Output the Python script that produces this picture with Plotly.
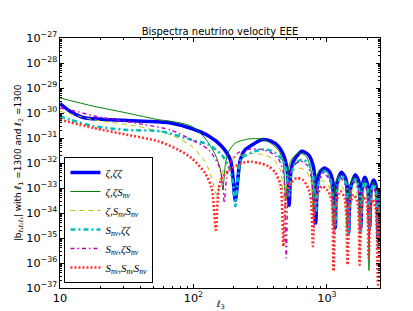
import plotly.graph_objects as go

# ---------------- data (|b| vs ell_3) ----------------
ell_zzz = [10, 11.9, 13.7, 15.5, 23.8, 42, 67.5, 96.7, 130, 162, 190, 206, 224, 244, 290, 325, 378, 435, 482, 507,
           522, 538, 572, 649, 729, 788, 815, 826, 851, 889, 961, 1048, 1113, 1156, 1191, 1283, 1380, 1429, 1456,
           1507, 1633, 1738, 1800, 1845, 1918, 2018, 2090, 2152, 2240, 2345, 2415, 2473, 2500]
b_zzz = [2.4e-30, 1.17e-30, 7.9e-31, 6.3e-31, 5.4e-31, 4.7e-31, 4.0e-31, 2.4e-31, 1.2e-31, 4.8e-32, 1.26e-32,
         3.2e-34, 1.26e-32, 3.4e-32, 6.3e-32, 8.5e-32, 7.6e-32, 4.5e-32, 1.58e-32, 4.0e-33,
         2.0e-34, 5.0e-33, 1.41e-32, 2.95e-32, 2.1e-32, 7.9e-33, 2.0e-33, 4.0e-35, 1.58e-33, 4.5e-33, 6.3e-33,
         4.5e-33, 1.58e-33, 2.5e-35, 1.58e-33, 4.3e-33, 2.5e-33, 7.9e-34, 1.58e-35,
         1.0e-33, 3.4e-33, 1.78e-33, 2.5e-35, 1.26e-33, 2.7e-33, 1.41e-33, 2.5e-35, 1.12e-33, 2.1e-33, 1.12e-33,
         1.0e-35, 5.0e-34, 8.5e-34]

ell_zzS = [10, 17.9, 31.8, 54.6, 67.5, 96.7, 122, 146, 160, 166, 174, 183, 206, 259, 325, 378, 435, 469, 492, 516,
           553, 614, 693, 755, 793, 823, 912, 1012, 1075, 1113, 1151, 1245, 1358, 1413, 1466, 1585, 1698, 1759,
           1820, 1901, 2003, 2067, 2128, 2223, 2333, 2395, 2466, 2500]
b_zzS = [4.0e-30, 1.86e-30, 1.0e-30, 5.4e-31, 4.7e-31, 2.95e-31, 1.0e-31, 2.1e-32, 5.0e-33, 8.5e-34, 1.0e-32,
         2.8e-32, 6.3e-32, 9.1e-32, 9.1e-32, 6.3e-32, 3.2e-32, 1.12e-32, 3.2e-34, 6.3e-33,
         1.58e-32, 2.5e-32, 2.0e-32, 6.3e-33, 1.58e-34, 2.5e-33, 5.6e-33, 4.0e-33, 1.26e-33, 3.2e-35, 1.26e-33,
         3.5e-33, 2.0e-33, 2.5e-35, 1.0e-33, 2.8e-33, 1.41e-33, 1.58e-35,
         1.0e-33, 2.24e-33, 1.12e-33, 5.0e-37, 7.9e-34, 1.78e-33, 8.9e-34, 1.0e-35, 5.0e-34, 7.9e-34]

ell_zSS = [10, 17.9, 37.8, 67.5, 96.7, 122, 137, 150, 162, 183, 217, 282, 353, 405, 450, 478, 507, 553, 614, 693,
           755, 794, 838, 912, 1012, 1075, 1122, 1172, 1268, 1370, 1429, 1493, 1585, 1698, 1766, 1837, 1906, 2003,
           2075, 2145, 2223, 2340, 2400, 2483, 2500]
b_zSS = [1.17e-30, 5.4e-31, 2.95e-31, 1.35e-31, 4.7e-32, 1.17e-32, 2.5e-33, 5.0e-34, 3.2e-33, 1.12e-32, 1.9e-32,
         2.4e-32, 2.0e-32, 1.26e-32, 5.0e-33, 3.2e-34, 2.5e-33, 5.0e-33, 6.3e-33, 5.0e-33,
         2.0e-33, 5.0e-35, 1.0e-33, 2.0e-33, 1.41e-33, 5.0e-34, 1.58e-35, 5.0e-34, 1.26e-33, 6.3e-34, 1.0e-35,
         4.0e-34, 1.0e-33, 5.0e-34, 1.0e-35, 4.0e-34, 7.9e-34, 4.0e-34,
         1.0e-35, 3.2e-34, 6.3e-34, 3.2e-34, 1.0e-35, 2.5e-34, 4.0e-34]

ell_Szz = [10, 11.9, 17.9, 31.8, 56.5, 96.7, 130, 163, 186, 198, 206, 215, 230, 290, 353, 412, 473, 502, 522, 543,
           582, 649, 729, 788, 826, 867, 961, 1057, 1156, 1203, 1288, 1393, 1456, 1517, 1633, 1738, 1800, 1853,
           1923, 2018, 2090, 2158, 2240, 2345, 2415, 2483, 2500]
b_Szz = [7.4e-31, 5.4e-31, 2.95e-31, 2.1e-31, 1.86e-31, 8.5e-32, 5.4e-32, 2.1e-32, 6.3e-33, 1.58e-33, 1.86e-34,
         2.5e-33, 1.58e-32, 2.95e-32, 3.5e-32, 2.5e-32, 1.12e-32, 3.2e-33, 5.0e-34, 4.0e-33,
         1.0e-32, 1.35e-32, 1.0e-32, 3.2e-33, 1.0e-34, 1.58e-33, 4.7e-33, 2.5e-33, 3.2e-35, 1.26e-33, 3.2e-33,
         1.58e-33, 1.58e-35, 1.0e-33, 2.24e-33, 1.0e-33, 1.58e-35, 7.9e-34,
         1.78e-33, 8.9e-34, 2.5e-35, 7.9e-34, 1.41e-33, 7.1e-34, 1.0e-35, 4.0e-34, 6.3e-34]

ell_SzS = [10, 13.7, 17.9, 42, 67.5, 96.7, 130, 154, 165, 170, 177, 188, 215, 259, 325, 385, 435, 473, 496, 520,
           562, 635, 716, 767, 802, 838, 929, 1030, 1094, 1132, 1183, 1268, 1370, 1429, 1493, 1600, 1714, 1774,
           1837, 1910, 2009, 2075, 2145, 2230, 2340, 2400, 2477, 2500]
b_SzS = [1.58e-30, 1.12e-30, 7.6e-31, 3.5e-31, 2.1e-31, 8.5e-32, 3.4e-32, 8.5e-33, 2.0e-33, 2.5e-34, 2.5e-33,
         1.0e-32, 2.5e-32, 3.5e-32, 3.5e-32, 2.5e-32, 1.41e-32, 4.0e-33, 1.58e-36, 2.5e-33,
         7.9e-33, 1.17e-32, 7.9e-33, 2.5e-33, 2.5e-35, 1.0e-33, 4.0e-33, 2.5e-33, 7.9e-34, 1.58e-35, 7.9e-34,
         2.5e-33, 1.26e-33, 3.2e-35, 7.9e-34, 1.78e-33, 7.9e-34, 1.58e-35,
         6.3e-34, 1.26e-33, 6.3e-34, 1.0e-35, 5.0e-34, 1.0e-33, 5.0e-34, 3.2e-36, 3.2e-34, 5.0e-34]

ell_SSS = [10, 17.9, 31.8, 54.6, 77, 96.7, 122, 137, 147, 154, 163, 194, 244, 272, 307, 366, 412, 450, 473, 499,
           535, 596, 668, 735, 764, 785, 823, 916, 1012, 1084, 1122, 1172, 1259, 1358, 1429, 1486, 1585, 1694,
           1759, 1820, 1884, 1986, 2055, 2128, 2203, 2317, 2415, 2483, 2500]
b_SSS = [5.4e-31, 2.5e-31, 1.35e-31, 7.4e-32, 3.4e-32, 1.58e-32, 4.0e-33, 1.0e-33, 2.1e-35, 7.9e-34, 2.5e-33,
         6.3e-33, 1.07e-32, 1.12e-32, 1.0e-32, 7.4e-33, 4.0e-33, 1.26e-33, 4.7e-36, 6.3e-34,
         1.58e-33, 2.5e-33, 2.0e-33, 7.9e-34, 2.5e-34, 4.7e-36, 3.2e-34, 1.17e-33, 7.9e-34, 3.2e-34, 4.7e-37,
         2.5e-34, 7.4e-34, 4.0e-34, 8.5e-37, 2.0e-34, 5.4e-34, 2.8e-34,
         8.5e-37, 1.58e-34, 4.7e-34, 2.5e-34, 1.58e-36, 1.58e-34, 3.4e-34, 1.58e-34, 1.35e-37, 1.0e-34, 1.58e-34]

names = ["<i>ζ,ζζ</i>",
         "<i>ζ,ζS<sub>nν</sub></i>",
         "<i>ζ,S<sub>nν</sub>S<sub>nν</sub></i>",
         "<i>S<sub>nν</sub>,ζζ</i>",
         "<i>S<sub>nν</sub>,ζS<sub>nν</sub></i>",
         "<i>S<sub>nν</sub>,S<sub>nν</sub>S<sub>nν</sub></i>"]

series = [(ell_zzz, b_zzz), (ell_zzS, b_zzS), (ell_zSS, b_zSS),
          (ell_Szz, b_Szz), (ell_SzS, b_SzS), (ell_SSS, b_SSS)]

styles = [dict(color="#0000ff", width=3.5, dash="solid"),
          dict(color="#008000", width=1, dash="solid"),
          dict(color="#bfbf00", width=1, dash="5px,4px"),
          dict(color="#00bfbf", width=2.6, dash="5px,3px,2px,3px"),
          dict(color="#bf00bf", width=1.4, dash="4px,3px,1.5px,3px"),
          dict(color="#ff3030", width=2.6, dash="2px,2px")]

fig = go.Figure()
for (x, y), nm, st in zip(series, names, styles):
    fig.add_trace(go.Scatter(x=x, y=y, mode="lines", name=nm,
                             line=dict(shape="spline", smoothing=0.7, **st)))

axis_common = dict(type="log", showline=True, linecolor="black", linewidth=1, mirror="ticks",
                   ticks="inside", ticklen=4, tickwidth=1, tickcolor="black", automargin=False,
                   showgrid=False, zeroline=False, exponentformat="power", dtick=1,
                   tickfont=dict(family="DejaVu Sans", size=9, color="black"),
                   minor=dict(ticks="inside", ticklen=2, tickcolor="black", dtick="D1", showgrid=False))

fig.update_layout(
    width=413, height=311,
    margin=dict(l=52, r=41, t=30, b=31, autoexpand=False),
    paper_bgcolor="white", plot_bgcolor="white",
    title=dict(text="Bispectra neutrino velocity EEE", x=0.5, xref="paper", xanchor="center",
               y=1, yref="paper", yanchor="bottom", pad=dict(b=3),
               font=dict(family="DejaVu Sans", size=10, color="black")),
    xaxis=dict(range=[1, 3.398], **axis_common),
    yaxis=dict(range=[-37, -27],
               title=dict(text="|b<sub>ℓ₁ℓ₂ℓ₃</sub>| with ℓ<sub>1</sub> =1300 and ℓ<sub>2</sub> =1300", standoff=3,
                          font=dict(family="DejaVu Sans", size=9, color="black")),
               **axis_common),
    legend=dict(x=0.014, y=0.02, xanchor="left", yanchor="bottom", bgcolor="white",
                bordercolor="black", borderwidth=1, itemwidth=30, tracegroupgap=0,
                font=dict(family="Liberation Serif", size=11, color="black")),
    showlegend=True,
    annotations=[dict(text="<i>ℓ</i><sub>3</sub>", xref="paper", yref="paper", x=0.5, y=-0.064,
                      xanchor="center", yanchor="middle", showarrow=False,
                      font=dict(family="DejaVu Sans", size=9, color="black"))],
)

fig.write_html("out.html")
